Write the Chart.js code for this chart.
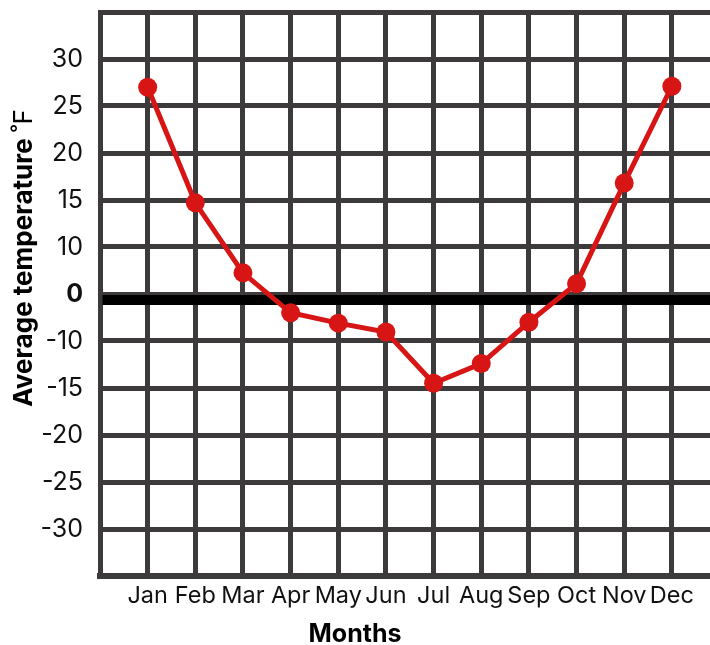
<!DOCTYPE html>
<html>
<head>
<meta charset="utf-8">
<script src="https://cdn.jsdelivr.net/npm/chart.js@4/dist/chart.umd.min.js"></script>
<style>
  html, body { margin: 0; padding: 0; background: #fff; }
  #wrap { width: 710px; height: 645px; position: relative; }
</style>
</head>
<body>
<div id="wrap"><canvas id="chart" width="710" height="645"></canvas></div>
<script>
// Monthly average temperatures
const months = ['Jan', 'Feb', 'Mar', 'Apr', 'May', 'Jun', 'Jul', 'Aug', 'Sep', 'Oct', 'Nov', 'Dec'];
const temps = [27, 14.7, 4.5, -4, -6.2, -8.1, -14.5, -12.4, -6, 2.2, 16.8, 27.1];

// Grid rows of the temperature axis, bottom to top (ends are unlabelled)
const yGridValues = [-35, -30, -25, -20, -15, -10, 0, 10, 15, 20, 25, 30, 35];
const yTickLabels = ['', '-30', '-25', '-20', '-15', '-10', '0', '10', '15', '20', '25', '30', ''];

const yTitle = 'Average temperature';
const yUnit = '\u02DAF';
const xTitle = 'Months';

const gridColor = '#3c3a3a';
const lineColor = '#d71515';

// Temperature -> row position (rows are evenly spaced even where the label step changes)
function valueToRow(v) {
  const g = yGridValues;
  if (v <= g[0]) return (v - g[0]) / (g[1] - g[0]);
  for (let i = 0; i < g.length - 1; i++) {
    if (v <= g[i + 1]) return i + (v - g[i]) / (g[i + 1] - g[i]);
  }
  const n = g.length - 1;
  return n + (v - g[n]) / (g[n] - g[n - 1]);
}
function rowToValue(r) {
  const g = yGridValues;
  const i = Math.max(0, Math.min(g.length - 2, Math.floor(r)));
  return g[i] + (r - i) * (g[i + 1] - g[i]);
}

// Linear scale whose grid rows follow yGridValues
class RowScale extends Chart.LinearScale {
  determineDataLimits() {
    this.min = 0;
    this.max = yGridValues.length - 1;
  }
  buildTicks() {
    return yGridValues.map(v => ({ value: v }));
  }
  getPixelForValue(value) {
    if (value === null || value === undefined) return NaN;
    return super.getPixelForValue(valueToRow(value));
  }
  getValueForPixel(pixel) {
    return rowToValue(super.getValueForPixel(pixel));
  }
}
RowScale.id = 'rows';
RowScale.defaults = {};
Chart.register(RowScale);

// Heavy line along 0 degrees
const zeroLine = {
  id: 'zeroLine',
  beforeDatasetsDraw(chart) {
    const { ctx, chartArea } = chart;
    const y0 = chart.scales.y.getPixelForValue(0);
    ctx.save();
    ctx.fillStyle = '#000';
    ctx.fillRect(chartArea.left + 2.5, y0 + 1, chartArea.right - chartArea.left - 2.5, 10);
    ctx.restore();
  }
};

// Axis titles: rotated name with a regular-weight unit, and the month title centred on the page
const axisTitles = {
  id: 'axisTitles',
  afterDraw(chart, args, opts) {
    const ctx = chart.ctx;
    ctx.save();
    ctx.fillStyle = '#000';

    // x title
    ctx.font = 'bold 25px Inter';
    ctx.textAlign = 'center';
    ctx.textBaseline = 'alphabetic';
    ctx.fillText(xTitle, chart.width / 2, opts.xBaseline);

    // y title
    ctx.translate(opts.yCenterX, opts.yCenterY);
    ctx.rotate(-Math.PI / 2);
    ctx.textBaseline = 'middle';
    ctx.textAlign = 'left';
    const boldFont = 'bold 26px Inter';
    const regFont = '26px Inter';
    const main = yTitle + ' ';
    ctx.font = boldFont;
    const w1 = ctx.measureText(main).width;
    ctx.font = regFont;
    const w2 = ctx.measureText(yUnit).width;
    const start = -(w1 + w2) / 2;
    ctx.font = boldFont;
    ctx.fillText(main, start, 0);
    ctx.font = regFont;
    ctx.fillText(yUnit, start + w1, 0);
    ctx.restore();
  }
};

new Chart(document.getElementById('chart'), {
  type: 'line',
  data: {
    datasets: [{
      data: temps.map((t, i) => ({ x: i + 1, y: t })),
      borderColor: lineColor,
      backgroundColor: lineColor,
      borderWidth: 5,
      pointRadius: 9.5,
      pointBorderWidth: 0,
      pointBackgroundColor: lineColor,
      tension: 0,
      clip: false
    }]
  },
  options: {
    responsive: false,
    animation: false,
    events: [],
    layout: { autoPadding: false, padding: { top: 12, right: 0, bottom: 0, left: 0 } },
    plugins: {
      legend: { display: false },
      tooltip: { enabled: false },
      axisTitles: { xBaseline: 642, yCenterX: 24, yCenterY: 258 }
    },
    scales: {
      x: {
        type: 'linear',
        min: 0,
        max: 12.8,
        grid: { color: gridColor, lineWidth: 5, drawTicks: false },
        border: { display: true, color: gridColor, width: 6 },
        ticks: {
          stepSize: 1,
          includeBounds: false,
          autoSkip: false,
          maxRotation: 0,
          padding: 6,
          color: '#111',
          font: { family: 'Inter', size: 23.5 },
          callback: v => (Number.isInteger(v) && months[v - 1]) ? months[v - 1] : ''
        },
        afterFit(scale) {
          scale.height = 69;
          scale.paddingLeft = 0;
          scale.paddingRight = 0;
        }
      },
      y: {
        type: 'rows',
        position: 'left',
        grid: { color: gridColor, lineWidth: 5, drawTicks: false },
        border: { display: true, color: gridColor, width: 5 },
        ticks: {
          autoSkip: false,
          padding: 17,
          color: '#111',
          font: ctx => ({
            family: 'Inter',
            size: 25,
            weight: (ctx.tick && ctx.tick.value === 0) ? 'bold' : 'normal'
          }),
          callback: (v, i) => yTickLabels[i]
        },
        afterFit(scale) {
          scale.width = 100;
          scale.paddingTop = 0;
          scale.paddingBottom = 0;
        }
      }
    }
  },
  plugins: [zeroLine, axisTitles]
});
</script>
</body>
</html>
